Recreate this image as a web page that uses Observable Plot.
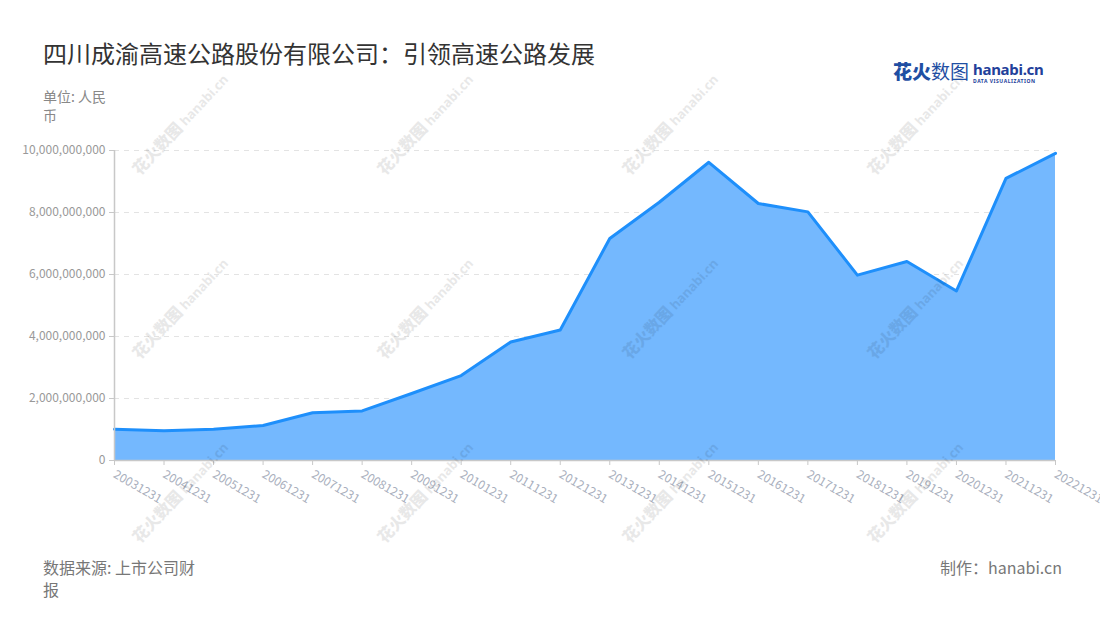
<!DOCTYPE html>
<html>
<head>
<meta charset="utf-8">
<script src="https://cdn.jsdelivr.net/npm/d3@7"></script>
<script src="https://cdn.jsdelivr.net/npm/@observablehq/plot@0.6"></script>
<style>
  html, body { margin: 0; padding: 0; background: #fff; }
  body { width: 1100px; height: 620px; position: relative; overflow: hidden; font-family: "Noto Sans CJK SC", "Noto Sans", sans-serif; }
  #chart { position: absolute; left: 0; top: 0; }
  .abs { position: absolute; white-space: nowrap; }
  #title { left: 43px; top: 36px; font-size: 24px; color: #333; line-height: 34px; }
  #unit { left: 43px; top: 87px; font-size: 14px; color: #888; width: 70px; white-space: normal; line-height: 19px; }
  #source { left: 43px; top: 556px; font-size: 16px; color: #777; width: 160px; white-space: normal; line-height: 22px; }
  #maker { right: 38px; top: 556px; font-size: 16px; color: #777; line-height: 22px; }
  #logo { left: 893px; top: 59px; height: 26px; }
  #logo .cn { font-size: 19px; color: #1f4fa3; display: inline-block; vertical-align: top; line-height: 24px; }
  #logo .cn b { font-weight: 900; }
  #logo .en { display: inline-block; vertical-align: top; margin-left: 4px; margin-top: 2px; width: 66px; }
  #logo .en .h { font-size: 15px; font-weight: 700; color: #22409a; font-family: "Noto Sans", sans-serif; line-height: 16px; height: 16px; letter-spacing: -0.3px; }
  #logo .en .d { font-size: 5px; font-weight: 700; color: #22409a; letter-spacing: 0.55px; line-height: 6px; margin-top: 1px; font-family: "Noto Sans", sans-serif; }
  .wm { position: absolute; color: #000; opacity: 0.085; transform: rotate(-47deg); transform-origin: center; pointer-events: none; white-space: nowrap; width: 150px; text-align: center; line-height: 20px; }
  .wm .c { font-size: 16px; font-weight: 900; }
  .wm .e { font-size: 13px; font-weight: 700; font-family: "Noto Sans", sans-serif; }
</style>
</head>
<body>
<div id="chart"></div>
<div id="wms"></div>
<div id="title" class="abs">四川成渝高速公路股份有限公司：引领高速公路发展</div>
<div id="unit" class="abs">单位: 人民币</div>
<div id="logo" class="abs"><span class="cn"><b>花火</b>数图</span><span class="en"><div class="h">hanabi.cn</div><div class="d">DATA VISUALIZATION</div></span></div>
<div id="source" class="abs">数据来源: 上市公司财报</div>
<div id="maker" class="abs">制作：hanabi.cn</div>
<script>
const dates = ["20031231","20041231","20051231","20061231","20071231","20081231","20091231","20101231","20111231","20121231","20131231","20141231","20151231","20161231","20171231","20181231","20191231","20201231","20211231","20221231"];
const values = [1.01e9, 0.96e9, 1.01e9, 1.13e9, 1.54e9, 1.60e9, 2.16e9, 2.74e9, 3.82e9, 4.21e9, 7.16e9, 8.33e9, 9.62e9, 8.29e9, 8.02e9, 5.98e9, 6.42e9, 5.47e9, 9.10e9, 9.91e9];
const yTicks = [0, 2e9, 4e9, 6e9, 8e9, 10e9];

const data = dates.map((d, i) => ({date: d, value: values[i]}));

const chart = Plot.plot({
  width: 1100,
  height: 620,
  marginLeft: 114,
  marginRight: 45,
  marginTop: 150,
  marginBottom: 160,
  style: {fontFamily: "'Noto Sans CJK SC', 'Noto Sans', sans-serif", fontSize: "12px", background: "transparent"},
  x: {type: "point", domain: dates, padding: 0, round: false, range: [114, 1055]},
  y: {domain: [0, 10e9], range: [460, 150]},
  marks: [
    Plot.ruleY(yTicks.slice(1), {stroke: "#e3e3e3", strokeDasharray: "5,5", strokeWidth: 1.2}),
    Plot.areaY(data, {x: "date", y: "value", fill: "#74b8fe", curve: "linear"}),
    Plot.lineY(data, {x: "date", y: "value", stroke: "#1e8ffb", strokeWidth: 3, curve: "linear"}),
    Plot.ruleY([0], {stroke: "#c8c8c8", strokeWidth: 1.5}),
    Plot.ruleX([dates[0]], {stroke: "#c8c8c8", strokeWidth: 1.5}),
    Plot.axisY({ticks: yTicks, tickFormat: d3.format(","), tickSize: 5, tickPadding: 4, stroke: "#c8c8c8", fill: "#999", label: null}),
    Plot.axisX({tickRotate: 30, tickSize: 5, tickPadding: 8, stroke: "#c8c8c8", fill: "#a9afbd", label: null})
  ]
});
document.getElementById("chart").appendChild(chart);

// faint watermarks
const wms = document.getElementById("wms");
const cols = [180, 425, 670, 915];
const rows = [123, 307, 491];
for (const cx of cols) for (const cy of rows) {
  const el = document.createElement("div");
  el.className = "wm";
  el.innerHTML = '<span class="c">花火数图</span> <span class="e">hanabi.cn</span>';
  el.style.left = (cx - 75) + "px";
  el.style.top = (cy - 10) + "px";
  wms.appendChild(el);
}
</script>
</body>
</html>
